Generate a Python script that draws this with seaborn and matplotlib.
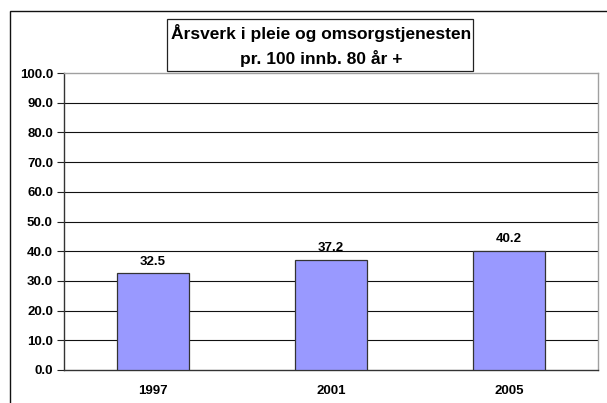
import matplotlib
matplotlib.use("Agg")
from matplotlib import pyplot as plt
from matplotlib.patches import Rectangle
import seaborn as sns
import pandas as pd

years = ["1997", "2001", "2005"]
values = [32.5, 37.2, 40.2]
title_lines = ["Årsverk i pleie og omsorgstjenesten", "pr. 100 innb. 80 år +"]

sns.set_style("white")
plt.rcParams["font.family"] = ["Liberation Sans", "DejaVu Sans"]
plt.rcParams["font.weight"] = "bold"
plt.rcParams["text.color"] = "black"
plt.rcParams["xtick.color"] = "black"
plt.rcParams["ytick.color"] = "black"

df = pd.DataFrame({"year": years, "value": values})

fig = plt.figure(figsize=(6.07, 4.03), dpi=100)
W, H = 607, 403
ax = fig.add_axes([64 / W, 1 - 370 / H, (598 - 64) / W, (370 - 73) / H])

sns.barplot(data=df, x="year", y="value", ax=ax, color="#9999FF",
            saturation=1, width=0.4, edgecolor="#333333", linewidth=0.9,
            zorder=3)

ax.set_ylim(0, 100)
ax.set_xlim(-0.5, 2.5)
ax.set_yticks(range(0, 101, 10))
ax.set_yticklabels([f"{v:.1f}" for v in range(0, 101, 10)], fontsize=9.5, fontweight="bold")
ax.set_xticks([0, 1, 2])
ax.set_xticklabels(years, fontsize=9.5, fontweight="bold")
ax.set_xticks([-0.5, 0.5, 1.5, 2.5], minor=True)
ax.tick_params(axis="x", which="major", length=0, pad=11)
ax.tick_params(axis="x", which="minor", length=4, width=0.8, color="#222222", direction="out")
ax.tick_params(axis="y", length=5, width=0.8, color="#222222", direction="out", pad=3, left=True)
ax.set_xlabel("")
ax.set_ylabel("")

for y in range(10, 100, 10):
    ax.axhline(y, color="#111111", lw=0.8, zorder=1)

for s in ["top", "right"]:
    ax.spines[s].set_color("#a0a0a0")
    ax.spines[s].set_linewidth(1.0)
for s in ["left", "bottom"]:
    ax.spines[s].set_color("#333333")
    ax.spines[s].set_linewidth(1.0)

for i, v in enumerate(values):
    ax.annotate(f"{v:.1f}", xy=(i, v), xytext=(0, 6), textcoords="offset points",
                ha="center", va="baseline", fontsize=9.5, fontweight="bold")

# outer chart frame
fig.patches.append(Rectangle((10 / W, -0.1), 1.2, 1 - 11 / H + 0.1,
                             transform=fig.transFigure, fill=False,
                             edgecolor="#111111", lw=1.0, zorder=0))

# title box
fig.patches.append(Rectangle((167 / W, 1 - 71 / H), (473 - 167) / W, (71 - 19) / H,
                             transform=fig.transFigure, fill=False,
                             edgecolor="#222222", lw=0.9))
fig.text(321 / W, 1 - 39 / H, title_lines[0], ha="center", va="baseline",
         fontsize=12.5, fontweight="bold")
fig.text(321 / W, 1 - 64 / H, title_lines[1], ha="center", va="baseline",
         fontsize=12.5, fontweight="bold")

fig.savefig("out.png", dpi=100)
